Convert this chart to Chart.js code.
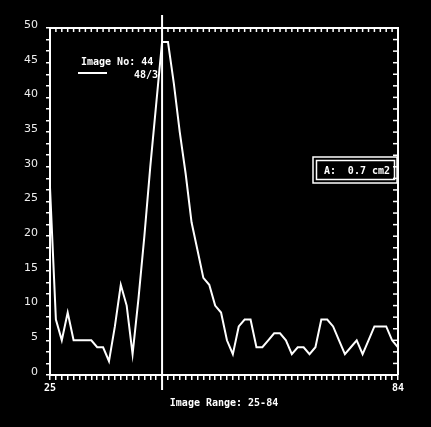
<!DOCTYPE html>
<html>
<head>
<meta charset="utf-8">
<script src="https://cdn.jsdelivr.net/npm/chart.js@4.4.0/dist/chart.umd.min.js"></script>
<style>
html, body { margin: 0; padding: 0; background: #000; }
</style>
</head>
<body>
<canvas id="c" width="431" height="427"></canvas>
<script>
// Bildnummern und Werte
const imageNos = [25, 26, 27, 28, 29, 30, 31, 32, 33, 34, 35, 36, 37, 38, 39, 40, 41, 42, 43, 44,
                  45, 46, 47, 48, 49, 50, 51, 52, 53, 54, 55, 56, 57, 58, 59, 60, 61, 62, 63, 64,
                  65, 66, 67, 68, 69, 70, 71, 72, 73, 74, 75, 76, 77, 78, 79, 80, 81, 82, 83, 84];
const areaValues = [27, 8, 5, 9, 5, 5, 5, 5, 4, 4, 2, 7, 13, 10, 3, 11, 20, 30, 39, 48,
                    48, 42, 35, 29, 22, 18, 14, 13, 10, 9, 5, 3, 7, 8, 8, 4, 4, 5, 6, 6,
                    5, 3, 4, 4, 3, 4, 8, 8, 7, 5, 3, 4, 5, 3, 5, 7, 7, 7, 5, 4];
const yLabelValues = [0, 5, 10, 15, 20, 25, 30, 35, 40, 45, 50];
const xLabelValues = [25, 84];
const cursorImage = 44;
const cursorText = 'Image No: 44';
const cursorSub = '48/3';
const areaLabel = 'A:';
const areaText = '0.7 cm2';
const rangeTitle = 'Image Range: 25-84';

const monoBold = 'bold 10px "DejaVu Sans Mono"';

const overlay = {
    id: 'overlay',
    beforeDraw(chart) {
        const ctx = chart.ctx;
        ctx.save();
        ctx.fillStyle = '#000';
        ctx.fillRect(0, 0, chart.width, chart.height);
        ctx.restore();
    },
    afterDraw(chart) {
        const { ctx, chartArea: a, scales: { x, y } } = chart;
        const line = (x1, y1, x2, y2) => { ctx.beginPath(); ctx.moveTo(x1, y1); ctx.lineTo(x2, y2); ctx.stroke(); };
        ctx.save();
        ctx.strokeStyle = '#fff';
        ctx.fillStyle = '#fff';

        // Rahmen oben + rechts
        ctx.lineWidth = 2;
        ctx.beginPath();
        ctx.moveTo(a.left, a.top);
        ctx.lineTo(a.right, a.top);
        ctx.lineTo(a.right, a.bottom);
        ctx.stroke();

        // Ticks nach innen
        ctx.lineWidth = 1.5;
        x.ticks.forEach(t => { const px = x.getPixelForValue(t.value); line(px, a.top, px, a.top + 4); });
        y.ticks.forEach(t => { const py = y.getPixelForValue(t.value); line(a.right - 5, py, a.right, py); });

        // Cursor
        ctx.lineWidth = 2;
        const cx = x.getPixelForValue(cursorImage);
        line(cx, a.top - 13, cx, a.bottom + 15);

        // Legende
        ctx.font = monoBold;
        ctx.textBaseline = 'middle';
        ctx.textAlign = 'left';
        ctx.fillText(cursorText, 81, 62);
        ctx.textAlign = 'right';
        ctx.fillText(cursorSub, 158, 75);
        line(78, 73, 107, 73);

        // Flaechen-Box
        ctx.lineWidth = 1.5;
        ctx.strokeRect(313, 157, 84, 26);
        ctx.strokeRect(316.5, 160.5, 78, 19);
        ctx.textAlign = 'left';
        ctx.fillText(areaLabel, 324, 171);
        ctx.textAlign = 'right';
        ctx.fillText(areaText, 390, 171);
        ctx.restore();
    }
};

new Chart(document.getElementById('c'), {
    type: 'line',
    data: {
        datasets: [{
            data: imageNos.map((n, i) => ({ x: n, y: areaValues[i] })),
            borderColor: '#fff',
            borderWidth: 2,
            pointRadius: 0,
            tension: 0,
            fill: false
        }]
    },
    options: {
        responsive: false,
        animation: false,
        events: [],
        layout: { padding: { left: 0, top: 28, right: 33, bottom: 0 } },
        plugins: { legend: { display: false }, tooltip: { enabled: false } },
        scales: {
            x: {
                type: 'linear', position: 'bottom', min: 25, max: 84,
                afterFit: s => { s.height = 52; },
                border: { display: true, color: '#fff', width: 2 },
                grid: { drawOnChartArea: false, color: '#fff', lineWidth: 1.5, tickLength: 5 },
                ticks: {
                    stepSize: 1, autoSkip: false, maxRotation: 0, padding: 2,
                    color: '#fff', font: { family: 'DejaVu Sans Mono', size: 10, weight: 'bold' },
                    callback: v => xLabelValues.includes(v) ? String(v) : ''
                },
                title: {
                    display: true, text: rangeTitle, color: '#fff',
                    font: { family: 'DejaVu Sans Mono', size: 10, weight: 'bold' },
                    padding: { top: 4, bottom: 18 }
                }
            },
            y: {
                type: 'linear', position: 'left', min: 0, max: 50,
                afterFit: s => { s.width = 50; },
                border: { display: true, color: '#fff', width: 2 },
                grid: { drawOnChartArea: false, color: '#fff', lineWidth: 1.5, tickLength: 4 },
                ticks: {
                    stepSize: 5 / 3, autoSkip: false, padding: 8, labelOffset: -3,
                    color: '#eee', font: { family: 'DejaVu Sans', size: 11 },
                    callback: v => {
                        const hit = yLabelValues.find(l => Math.abs(l - v) < 1e-6);
                        return hit === undefined ? '' : String(hit);
                    }
                }
            }
        }
    },
    plugins: [overlay]
});
</script>
</body>
</html>
